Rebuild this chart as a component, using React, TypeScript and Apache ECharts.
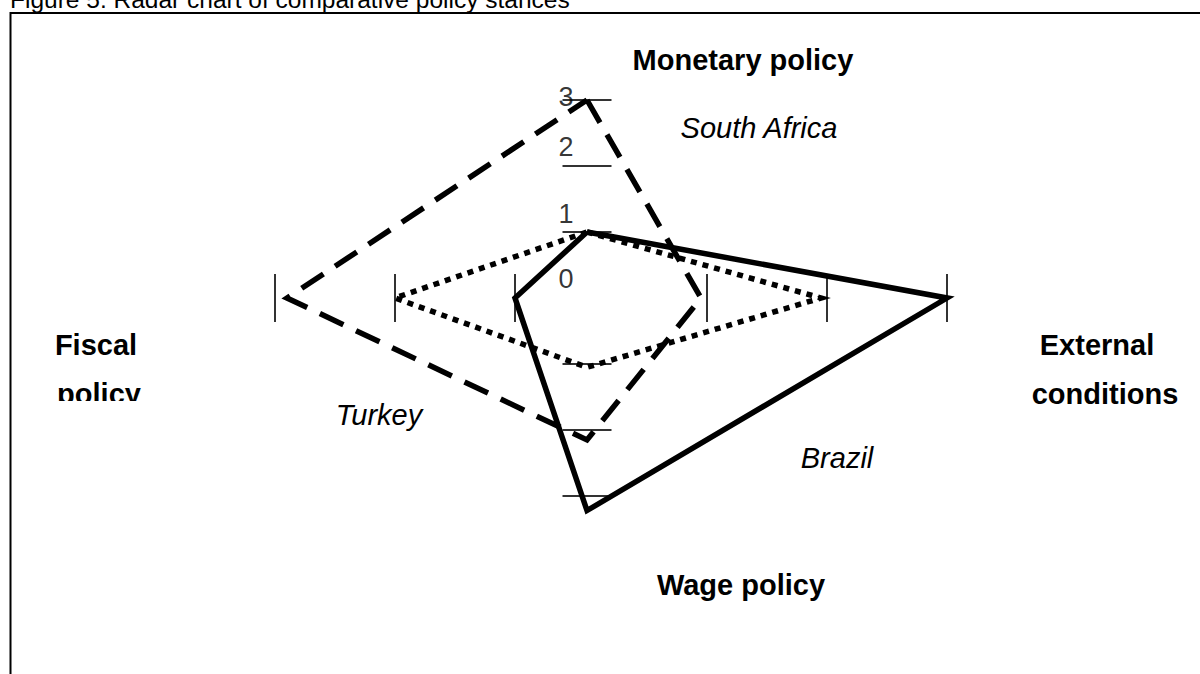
import React, { useEffect, useRef } from "react";
import * as echarts from "echarts";

// ---- data ----
const titleText = "Figure 5. Radar chart of comparative policy stances";
// axis order: Monetary (up), External (right), Wage (down), Fiscal (left)
const axisNames = ["Monetary policy", "External conditions", "Wage policy", "Fiscal policy"];
const tickValues = [1, 2, 3];
const tickLabels = ["0", "1", "2", "3"];
const seriesNames = ["South Africa", "Brazil", "Turkey"];
const southAfrica = [3, 0.95, 2.15, 2.9];
const brazil = [1, 3, 3.22, 1];
const turkey = [1, 1.95, 1.05, 2];

// in the source drawing the fiscal (left) scale starts slightly right of the centre
const FISCAL_SHIFT = 0.4;
const FONT = "'Liberation Sans', Arial, Helvetica, sans-serif";

function fiscalX(v: number) {
  return -(v - FISCAL_SHIFT);
}

function toXY(vals: number[]) {
  const [m, e, w, f] = vals;
  return [
    [0, m],
    [e, 0],
    [0, -w],
    [fiscalX(f), 0],
    [0, m],
  ];
}

export default function App() {
  const ref = useRef<HTMLDivElement>(null);

  useEffect(() => {
    if (!ref.current) return;
    const chart = echarts.init(ref.current, undefined, { renderer: "svg" });

    const vTicks = [
      ...tickValues.map((t) => [0, t]),
      ...tickValues.map((t) => [0, -t]),
    ];
    const hTicks = [
      ...tickValues.map((t) => [t, 0]),
      ...tickValues.map((t) => [fiscalX(t), 0]),
    ];
    const labelOffsets = [-19, -18.5, -19.5, -3];
    const tickLabelData = tickLabels.map((lab, i) => ({
      value: [0, i],
      label: { offset: [-21, labelOffsets[i]] },
    }));

    const boldText = (text: string, x: number, y: number, align = "center") => ({
      type: "text",
      x,
      y,
      z: 10,
      style: {
        text,
        fontSize: 29,
        fontWeight: "bold",
        fontFamily: FONT,
        fill: "#000",
        align,
        verticalAlign: "middle",
      },
    });
    const italicText = (text: string, x: number, y: number) => ({
      type: "text",
      x,
      y,
      z: 10,
      style: {
        text,
        fontSize: 29,
        fontStyle: "italic",
        fontFamily: FONT,
        fill: "#000",
        align: "center",
        verticalAlign: "middle",
      },
    });

    const fiscalWords = axisNames[3].split(" ");
    const externalWords = axisNames[1].split(" ");

    chart.setOption({
      animation: false,
      backgroundColor: "#fff",
      grid: { left: 167, right: 193, top: 67, bottom: 145 },
      xAxis: { type: "value", min: -3.5, max: 3.5, show: false },
      yAxis: { type: "value", min: -3.5, max: 3.5, show: false },
      series: [
        {
          name: "ticks-v",
          type: "scatter",
          data: vTicks,
          symbol: "rect",
          symbolSize: [49, 2],
          itemStyle: { color: "#000" },
          silent: true,
          z: 1,
        },
        {
          name: "ticks-h",
          type: "scatter",
          data: hTicks,
          symbol: "rect",
          symbolSize: [2, 48],
          itemStyle: { color: "#000" },
          silent: true,
          z: 1,
        },
        {
          name: "tick-labels",
          type: "scatter",
          data: tickLabelData,
          symbolSize: 0,
          silent: true,
          itemStyle: { color: "#000" },
          label: {
            show: true,
            position: [0, 0],
            align: "center",
            verticalAlign: "middle",
            formatter: (p: any) => tickLabels[p.dataIndex],
            fontSize: 27,
            fontFamily: FONT,
            color: "#000",
            textBorderWidth: 0,
          },
          z: 2,
        },
        {
          name: seriesNames[2],
          type: "line",
          data: toXY(turkey),
          symbol: "none",
          silent: true,
          lineStyle: { color: "#000", width: 5.5, type: [6, 6], cap: "butt", join: "miter" },
          z: 3,
        },
        {
          name: seriesNames[0],
          type: "line",
          data: toXY(southAfrica),
          symbol: "none",
          silent: true,
          lineStyle: { color: "#000", width: 5.5, type: [26, 14], cap: "butt", join: "miter" },
          z: 4,
        },
        {
          name: seriesNames[1],
          type: "line",
          data: toXY(brazil),
          symbol: "none",
          silent: true,
          lineStyle: { color: "#000", width: 5.5, type: "solid", cap: "butt", join: "miter" },
          z: 5,
        },
      ],
      graphic: [
        {
          type: "text",
          x: 10,
          y: -1,
          z: 10,
          style: {
            text: titleText,
            fontSize: 24.5,
            fontFamily: FONT,
            fill: "#000",
            align: "left",
            verticalAlign: "middle",
          },
        },
        {
          type: "polyline",
          z: 9,
          shape: { points: [[1200, 13], [10.5, 13], [10.5, 674]] },
          style: { stroke: "#000", lineWidth: 2, fill: "none" },
        },
        boldText(axisNames[0], 743, 60),
        boldText(axisNames[2], 741, 585),
        boldText(fiscalWords[0], 96, 345),
        boldText(fiscalWords[1], 99, 394),
        boldText(externalWords[0], 1097, 345),
        boldText(externalWords[1], 1105, 394),
        {
          type: "rect",
          z: 11,
          shape: { x: 30, y: 401, width: 150, height: 20 },
          style: { fill: "#fff" },
        },
        {
          type: "rect",
          z: 11,
          shape: { x: 1010, y: 404, width: 190, height: 20 },
          style: { fill: "#fff" },
        },
        italicText(seriesNames[0], 759, 128),
        italicText(seriesNames[2], 379, 415),
        italicText(seriesNames[1], 837, 458),
      ],
    });

    return () => chart.dispose();
  }, []);

  return (
    <div
      ref={ref}
      style={{ position: "fixed", left: 0, top: 0, width: 1200, height: 674, background: "#fff" }}
    />
  );
}
